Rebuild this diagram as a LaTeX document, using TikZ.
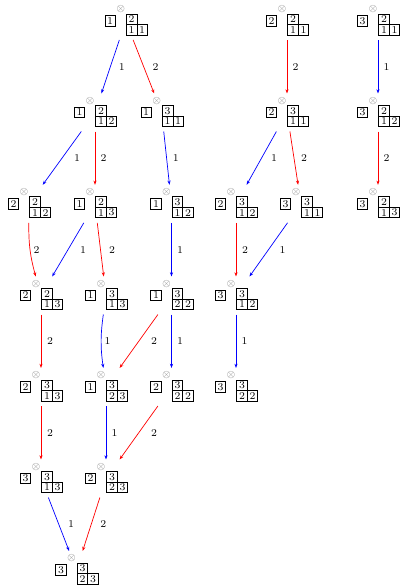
\documentclass[tikz,border=0pt]{standalone}
\usetikzlibrary{calc,arrows.meta}
\definecolor{CrystalOne}{HTML}{0000FF}
\definecolor{CrystalTwo}{HTML}{FF0000}

\tikzset{
    tensbox/.style={minimum width=1.1cm, minimum height=0.95cm, inner sep=0pt, outer sep=0pt},
    cell/.style={draw=black, line width=0.6pt, minimum size=0.2625cm, inner sep=0pt, font=\fontsize{7.4}{8}\selectfont},
    otimes/.style={text=black!45, inner sep=0pt, font=\fontsize{7}{8}\selectfont},
    arrowone/.style={CrystalOne, line width=0.5pt, -{Stealth[length=3pt, width=2.2pt]}},
    arrowtwo/.style={CrystalTwo, line width=0.5pt, -{Stealth[length=3pt, width=2.2pt]}},
    lbl/.style={midway, xshift=#1*0.025cm, inner sep=0pt, text=black, font=\fontsize{7.4}{8}\selectfont},
    lbl/.default=8.5,
}

% 单格 ⊗ 杨表 (顶格 / 底行两格)
\newcommand{\crystalnode}[7]{%
    \coordinate (#1-o) at (#2,#3);
    \node[tensbox] (#1) at ($(#1-o)+(5,11.5)$) {};
    \node[otimes] (#1-x) at (#1-o) {$\otimes$};
    \node[cell] (#1-s) at ($(#1-o)+(-10.5,11.5)$) {#4};
    \node[cell] (#1-t) at ($(#1-o)+(11,9.8)$) {#5};
    \node[cell] (#1-a) at ($(#1-o)+(11,20.3)$) {#6};
    \node[cell] (#1-b) at ($(#1-o)+(21.5,20.3)$) {#7};
}

\begin{document}
\begin{tikzpicture}[x=0.025cm, y=-0.025cm]
    % =========================================
    % 1. 画布 (400 x 586)
    % =========================================
    \useasboundingbox (0,0) rectangle (400,586);

    % =========================================
    % 2. 顶点 (按层排列)
    % =========================================
    % 第 1 层
    \crystalnode{c1-211}{120.7}{9.5}{1}{2}{1}{1}
    \crystalnode{c2-211}{282}{9.5}{2}{2}{1}{1}
    \crystalnode{c3-211}{373}{9.5}{3}{2}{1}{1}
    % 第 2 层
    \crystalnode{c1-212}{90}{101}{1}{2}{1}{2}
    \crystalnode{c1-311}{156.7}{101}{1}{3}{1}{1}
    \crystalnode{c2-311}{282}{101}{2}{3}{1}{1}
    \crystalnode{c3-212}{373}{101}{3}{2}{1}{2}
    % 第 3 层
    \crystalnode{c2-212}{24}{192.3}{2}{2}{1}{2}
    \crystalnode{c1-213}{90}{192.3}{1}{2}{1}{3}
    \crystalnode{c1-312}{166.5}{192.3}{1}{3}{1}{2}
    \crystalnode{c2-312}{231}{192.3}{2}{3}{1}{2}
    \crystalnode{c3-311}{296}{192.3}{3}{3}{1}{1}
    \crystalnode{c3-213}{373}{192.3}{3}{2}{1}{3}
    % 第 4 层
    \crystalnode{c2-213}{36}{284}{2}{2}{1}{3}
    \crystalnode{c1-313}{101}{284}{1}{3}{1}{3}
    \crystalnode{c1-322}{166.5}{284}{1}{3}{2}{2}
    \crystalnode{c3-312}{231}{284}{3}{3}{1}{2}
    % 第 5 层
    \crystalnode{c2-313}{36}{375.5}{2}{3}{1}{3}
    \crystalnode{c1-323}{101}{375.5}{1}{3}{2}{3}
    \crystalnode{c2-322}{166.5}{375.5}{2}{3}{2}{2}
    \crystalnode{c3-322}{231}{375.5}{3}{3}{2}{2}
    % 第 6、7 层
    \crystalnode{c3-313}{36}{467}{3}{3}{1}{3}
    \crystalnode{c2-323}{101}{467}{2}{3}{2}{3}
    \crystalnode{c3-323}{71.5}{558.5}{3}{3}{2}{3}

    % =========================================
    % 3. 箭头 (蓝 = 1, 红 = 2)
    % =========================================
    \draw[arrowone] (c1-211) -- node[lbl=11.4] {1} (c1-212);
    \draw[arrowtwo] (c1-211) -- node[lbl=11.8] {2} (c1-311);
    \draw[arrowtwo] (c2-211) -- node[lbl] {2} (c2-311);
    \draw[arrowone] (c3-211) -- node[lbl] {1} (c3-212);

    \draw[arrowone] (c1-212) -- node[lbl=15] {1} (c2-212);
    \draw[arrowtwo] (c1-212) -- node[lbl] {2} (c1-213);
    \draw[arrowone] (c1-311) -- node[lbl=9.2] {1} (c1-312);
    \draw[arrowone] (c2-311) -- node[lbl=12.6] {1} (c2-312);
    \draw[arrowtwo] (c2-311) -- node[lbl=10] {2} (c3-311);
    \draw[arrowtwo] (c3-212) -- node[lbl] {2} (c3-213);

    \draw[arrowtwo] (c2-212) to[bend right=8] node[lbl=6.5] {2} (c2-213);
    \draw[arrowone] (c1-213) -- node[lbl=15] {1} (c2-213);
    \draw[arrowtwo] (c1-213) -- node[lbl=11.5] {2} (c1-313);
    \draw[arrowone] (c1-312) -- node[lbl] {1} (c1-322);
    \draw[arrowtwo] (c2-312) -- node[lbl=9] {2} (c3-312);
    \draw[arrowone] (c3-311) -- node[lbl=14.2] {1} (c3-312);

    \draw[arrowtwo] (c2-213) -- node[lbl=9] {2} (c2-313);
    \draw[arrowone] (c1-313) to[bend right=8] node[lbl=6.5] {1} (c1-323);
    \draw[arrowtwo] (c1-322) -- node[lbl=15.3] {2} (c1-323);
    \draw[arrowone] (c1-322) -- node[lbl] {1} (c2-322);
    \draw[arrowone] (c3-312) -- node[lbl] {1} (c3-322);

    \draw[arrowtwo] (c2-313) -- node[lbl=9] {2} (c3-313);
    \draw[arrowone] (c1-323) -- node[lbl] {1} (c2-323);
    \draw[arrowtwo] (c2-322) -- node[lbl=15.3] {2} (c2-323);

    \draw[arrowone] (c3-313) -- node[lbl=12.3] {1} (c3-323);
    \draw[arrowtwo] (c2-323) -- node[lbl=12] {2} (c3-323);

\end{tikzpicture}
\end{document}
